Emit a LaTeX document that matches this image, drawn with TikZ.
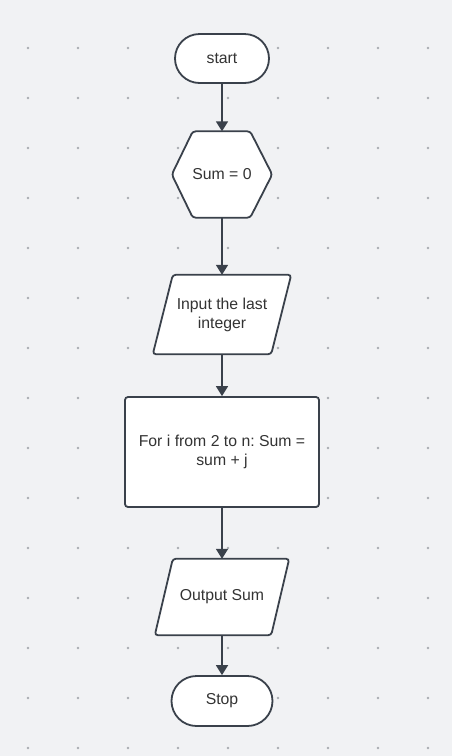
\documentclass[tikz,border=0pt]{standalone}
\usepackage{fontspec}
\setmainfont{Liberation Sans}
\usetikzlibrary{arrows.meta}
\definecolor{bgc}{HTML}{F1F2F4}
\definecolor{dotc}{HTML}{A9ACB1}
\definecolor{linec}{HTML}{3A414B}
\definecolor{txtc}{HTML}{333333}
\frenchspacing
\begin{document}
\begin{tikzpicture}[x=1pt,y=-1pt,
  outline/.style={draw=linec,line width=1.8pt,fill=white},
  holder/.style={draw=none,inner sep=0pt,align=center,text=txtc,font=\fontsize{15.8}{19}\selectfont},
  flow/.style={draw=linec,line width=1.8pt,-{Triangle[width=12pt,length=10pt]}}]
\useasboundingbox (0,0) rectangle (452,756);
\fill[bgc] (0,0) rectangle (452,756);
\foreach \x in {28,78,...,428}
  \foreach \y in {48,98,...,748}
    \fill[dotc] (\x,\y) circle (1.3);
% start
\node[holder,outline,rounded corners=24.5pt,minimum width=94pt,minimum height=49pt] (start) at (222,58.5) {start};
% hexagon
\node[holder,minimum width=100pt,minimum height=86pt] (hex) at (222,174.5) {};
\draw[outline,rounded corners=3pt] (hex.west) -- ([xshift=21pt]hex.north west) -- ([xshift=-22pt]hex.north east) -- (hex.east) -- ([xshift=-22pt]hex.south east) -- ([xshift=21pt]hex.south west) -- cycle;
\node[holder] at (hex.center) {Sum = 0};
% input
\node[holder,minimum width=138pt,minimum height=79pt] (inp) at (222,314.5) {};
\draw[outline,rounded corners=3pt] ([xshift=20pt]inp.north west) -- (inp.north east) -- ([xshift=-20pt]inp.south east) -- (inp.south west) -- cycle;
\node[holder] at (inp.center) {Input the last\\integer};
% loop
\node[holder,outline,rounded corners=3pt,minimum width=194pt,minimum height=110pt] (loop) at (222,452) {For i from 2 to n:\ Sum =\\sum + j};
% output
\node[holder,minimum width=134pt,minimum height=76pt] (out) at (222,597) {};
\draw[outline,rounded corners=3pt] ([xshift=18pt]out.north west) -- (out.north east) -- ([xshift=-18pt]out.south east) -- (out.south west) -- cycle;
\node[holder] at (out.center) {Output Sum};
% stop
\node[holder,outline,rounded corners=25pt,minimum width=101pt,minimum height=50pt] (stop) at (222,701) {Stop};
% connectors
\draw[flow] (start.south) -- (hex.north);
\draw[flow] (hex.south) -- (inp.north);
\draw[flow] (inp.south) -- (loop.north);
\draw[flow] (loop.south) -- (out.north);
\draw[flow] (out.south) -- (stop.north);
\end{tikzpicture}
\end{document}
